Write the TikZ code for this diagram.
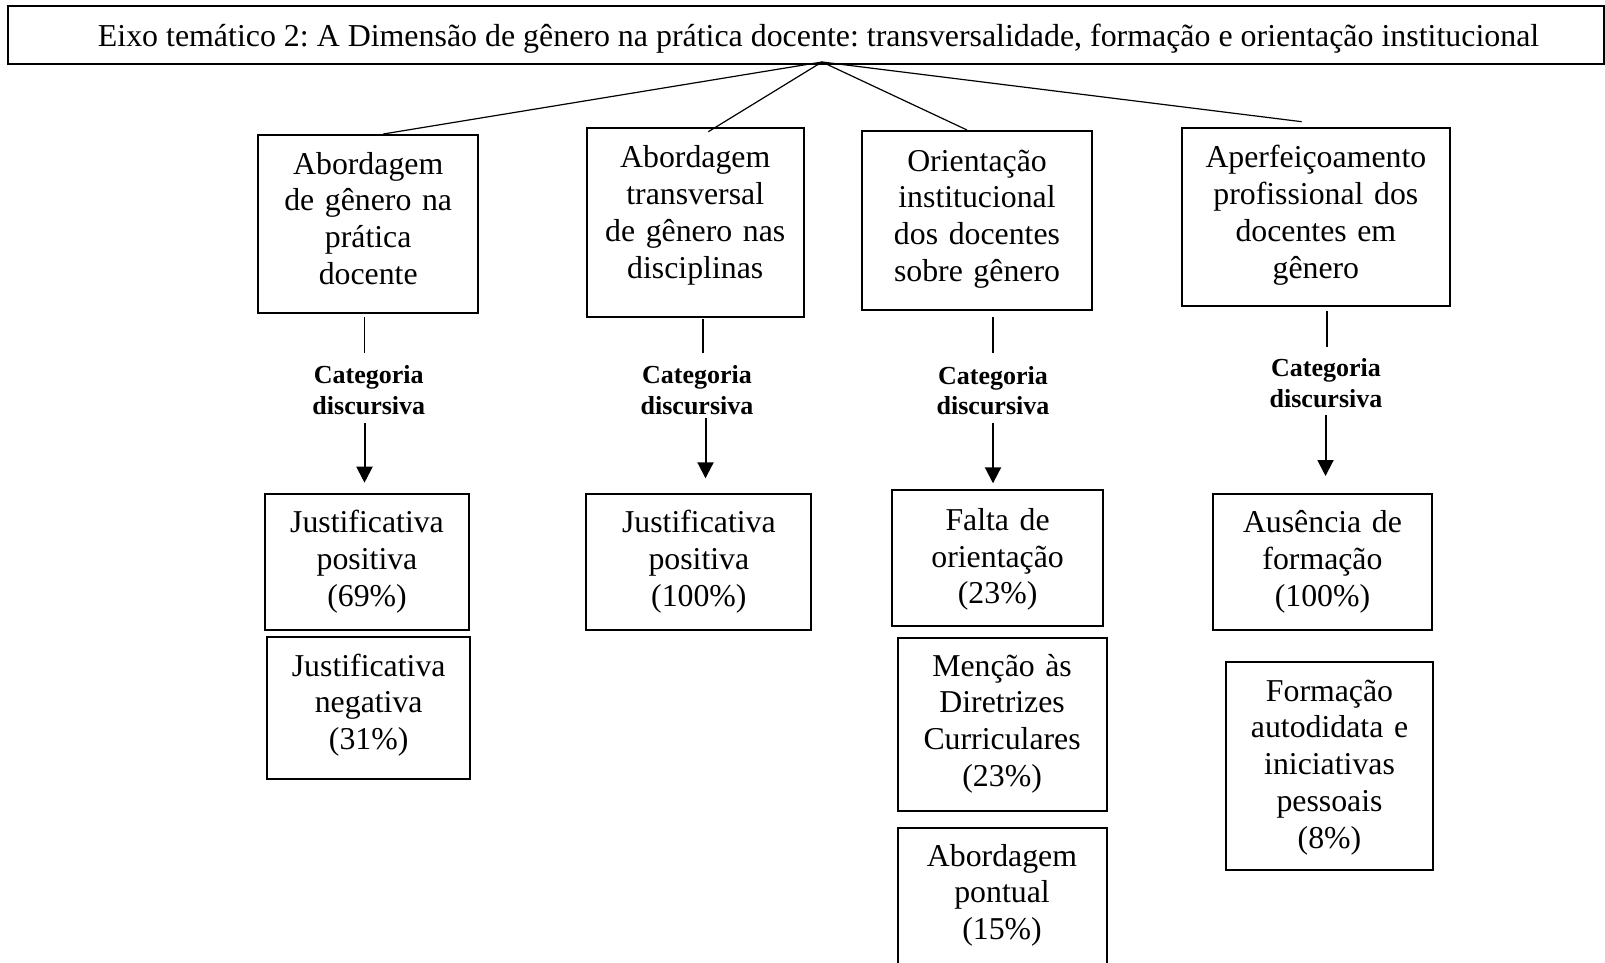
\documentclass[tikz,border=0pt]{standalone}
\usepackage{fontspec}
\setmainfont{Liberation Serif}
\usetikzlibrary{arrows.meta}
\frenchspacing
\tikzset{
  box/.style={draw, line width=2pt, inner sep=0pt, align=center, anchor=north,
    font=\fontsize{31.8}{36.8}\selectfont},
  cat/.style={inner sep=0pt, align=center, anchor=north, text width=160pt,
    font=\bfseries\fontsize{26}{30.7}\selectfont},
  thinline/.style={line width=1.2pt},
  arr/.style={line width=2pt, -{Triangle[length=16pt,width=16pt]}},
}
\begin{document}
\begin{tikzpicture}[x=1pt,y=-1pt]
\useasboundingbox (0,0) rectangle (1605,963);
% title
\node[draw, line width=2pt, inner sep=0pt, anchor=north, minimum width=1596pt,
  text height=40.5pt, text depth=17.5pt,
  font=\fontsize{31.9}{36}\selectfont\frenchspacing] (title) at (806,5)
  {\hspace*{25pt}Eixo temático 2: A Dimensão de gênero na prática docente: transversalidade, formação e orientação institucional};
% level 1
\node[box, text width=220.4pt, text height=39pt, text depth=139.3pt] (aBox) at (368.2,134)
  {Abordagem\\de gênero na\\prática\\docente};
\node[box, text width=217.5pt, text height=40pt, text depth=149pt] (bBox) at (695.25,126.7)
  {Abordagem\\transversal\\de gênero nas\\disciplinas};
\node[box, text width=229.6pt, text height=40pt, text depth=139pt] (cBox) at (977,130)
  {Orientação\\institucional\\dos docentes\\sobre gênero};
\node[box, text width=268.3pt, text height=40pt, text depth=138.3pt] (dBox) at (1315.85,126.7)
  {Aperfeiçoamento\\profissional dos\\docentes em\\gênero};
% connectors from title
\coordinate (apex) at (822,62);
\coordinate (aT) at (383.3,0);
\coordinate (bEnd) at (708.3,131.7);
\coordinate (cT) at (967,0);
\coordinate (dEnd) at (1301.7,121.7);
\draw[thinline] (apex) -- (aBox.north -| aT);
\draw[thinline] (apex) -- (bEnd);
\draw[thinline] (apex) -- (cBox.north -| cT);
\draw[thinline] (apex) -- (dEnd);
% category labels
\node[cat, text height=30.3pt, text depth=39.4pt] (aCat) at (368.8,353) {Categoria\\discursiva};
\node[cat, text height=30pt, text depth=34.4pt] (bCat) at (697,353.3) {Categoria\\discursiva};
\node[cat, text height=30.7pt, text depth=38.7pt] (cCat) at (993,353.3) {Categoria\\discursiva};
\node[cat, text height=30pt, text depth=37.6pt] (dCat) at (1326,346.7) {Categoria\\discursiva};
% level 2
\node[box, text width=204pt, text height=39pt, text depth=97.6pt] (a1) at (367,492.7)
  {Justificativa\\positiva\\(69\%)};
\node[box, text width=203.4pt, text height=39pt, text depth=102.7pt] (a2) at (368.7,636)
  {Justificativa\\negativa\\(31\%)};
\node[box, text width=225.1pt, text height=39pt, text depth=97.6pt] (b1) at (698.85,492.7)
  {Justificativa\\positiva\\(100\%)};
\node[box, text width=210.8pt, text height=40pt, text depth=95.7pt] (c1) at (997.6,489.3)
  {Falta de\\orientação\\(23\%)};
\node[box, text width=208.8pt, text height=38.3pt, text depth=135pt] (c2) at (1002.1,636.7)
  {Menção às\\Diretrizes\\Curriculares\\(23\%)};
\node[box, text width=209pt, text height=38.3pt, text depth=121.7pt] (c3) at (1002,826.7)
  {Abordagem\\pontual\\(15\%)};
\node[box, text width=218.3pt, text height=39pt, text depth=97.6pt] (d1) at (1322.45,492.7)
  {Ausência de\\formação\\(100\%)};
\node[box, text width=206.4pt, text height=39pt, text depth=169.3pt] (d2) at (1329.5,661)
  {Formação\\autodidata e\\iniciativas\\pessoais\\(8\%)};
% vertical lines and arrows
\coordinate (aX) at (364.5,0);
\coordinate (bX) at (703,0);
\coordinate (bY) at (705.5,0);
\coordinate (cX) at (993,0);
\coordinate (dX) at (1327,0);
\coordinate (dY) at (1325.5,0);
\draw[thinline, shorten <=2.7pt] (aBox.south -| aX) -- (aCat.north -| aX);
\draw[thinline, shorten <=1pt] (bBox.south -| bX) -- (bCat.north -| bX);
\draw[thinline, shorten <=6pt] (cBox.south -| cX) -- (cCat.north -| cX);
\draw[thinline, shorten <=4pt] (dBox.south -| dX) -- (dCat.north -| dX);
\draw[arr, shorten >=10pt] (aCat.south -| aX) -- (a1.north -| aX);
\draw[arr, shorten >=14.4pt] (bCat.south -| bY) -- (b1.north -| bY);
\draw[arr, shorten >=6pt] (cCat.south -| cX) -- (c1.north -| cX);
\draw[arr, shorten >=16.7pt] (dCat.south -| dY) -- (d1.north -| dY);
\end{tikzpicture}
\end{document}
